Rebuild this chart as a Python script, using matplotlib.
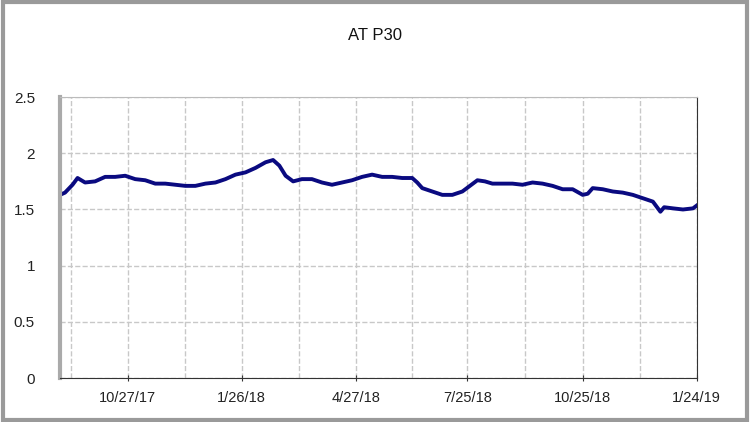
import matplotlib
matplotlib.use("Agg")
import matplotlib.pyplot as plt
import matplotlib.dates as mdates
import numpy as np
import datetime as dt

start = dt.date(2017, 9, 3)
day_offsets = [0,4,10,14,20,28,36,44,52,60,68,76,84,92,100,108,116,124,132,140,148,156,164,170,175,180,186,193,201,209,217,225,233,241,249,257,265,273,281,285,289,297,305,313,321,327,333,339,345,353,361,369,377,385,393,401,409,417,421,425,433,441,449,457,465,473,479,482,489,497,505,511]
values = [1.63,1.65,1.72,1.78,1.74,1.75,1.79,1.79,1.80,1.77,1.76,1.73,1.73,1.72,1.71,1.71,1.73,1.74,1.77,1.81,1.83,1.87,1.92,1.94,1.89,1.80,1.75,1.77,1.77,1.74,1.72,1.74,1.76,1.79,1.81,1.79,1.79,1.78,1.78,1.74,1.69,1.66,1.63,1.63,1.66,1.71,1.76,1.75,1.73,1.73,1.73,1.72,1.74,1.73,1.71,1.68,1.68,1.63,1.64,1.69,1.68,1.66,1.65,1.63,1.60,1.57,1.48,1.52,1.51,1.50,1.51,1.56]
tick_dates = ["2017-10-27","2018-01-26","2018-04-27","2018-07-25","2018-10-25","2019-01-24"]
tick_labels = ["10/27/17","1/26/18","4/27/18","7/25/18","10/25/18","1/24/19"]
y_ticks = [0, 0.5, 1, 1.5, 2, 2.5]
y_labels = ["0","0.5","1","1.5","2","2.5"]
title = "AT P30"

dates = [start + dt.timedelta(days=d) for d in day_offsets]
plt.rcParams['font.family'] = ['Liberation Sans', 'DejaVu Sans']
fig = plt.figure(figsize=(7.5, 4.22), dpi=100)
fig.patches.append(plt.Rectangle((0.004, 0.004), 0.992, 0.992, transform=fig.transFigure,
                                 fill=False, edgecolor='#9a9a9a', linewidth=3))
ax = fig.add_axes([0.08, 0.104, 0.849, 0.666])
ax.plot(dates, values, color='#0a0a80', linewidth=2.8)
ax.set_ylim(0, 2.5)
ax.set_xlim(start, dt.date(2019, 1, 24))
tds = [mdates.datestr2num(s) for s in tick_dates]
ax.set_xticks(tds)
ax.set_xticklabels(tick_labels, fontsize=10.5, color='#222222')
minors = [(a + b) / 2 for a, b in zip(tds[:-1], tds[1:])] + [tds[0] - 45.5]
ax.set_xticks(minors, minor=True)
ax.set_yticks(y_ticks)
ax.set_yticklabels(y_labels, fontsize=11, color='#222222')
ax.grid(True, which='both', color='#c8c8c8', linestyle='--', linewidth=1)
ax.tick_params(axis='y', length=0, pad=18)
ax.tick_params(axis='x', which='major', length=5, direction='inout', color='#333333', pad=7)
ax.tick_params(axis='x', which='minor', length=0)
ax.spines['top'].set_color('#bbbbbb')
ax.spines['left'].set_color('#aaaaaa')
ax.spines['left'].set_linewidth(3)
ax.spines['right'].set_color('#333333')
ax.spines['bottom'].set_color('#333333')
fig.text(0.5, 0.915, title, ha='center', va='center', fontsize=12, color='#111111')
fig.savefig("out.png", dpi=100)
